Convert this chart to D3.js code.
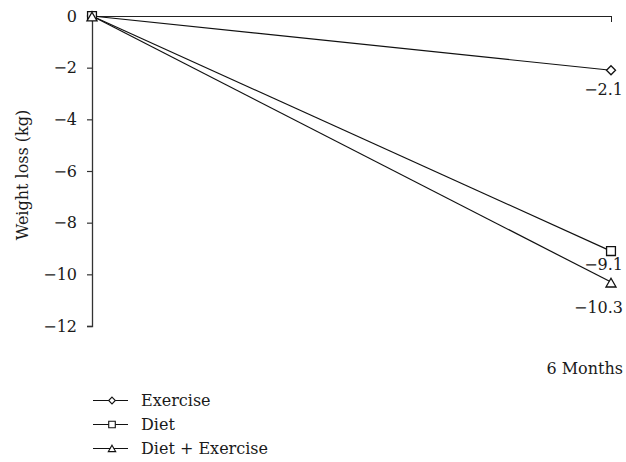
<!DOCTYPE html>
<html>
<head>
<meta charset="utf-8">
<script src="https://cdn.jsdelivr.net/npm/d3@7"></script>
<style>
  body { margin: 0; background: #fff; }
</style>
</head>
<body>
<div id="chart"></div>
<script>
// data
var timepoints = ["Baseline", "6 Months"];
var seriesNames = ["Exercise", "Diet", "Diet + Exercise"];
var exerciseVals = [0, -2.1];
var dietVals = [0, -9.1];
var comboVals = [0, -10.3];
var yTicks = [0, -2, -4, -6, -8, -10, -12];

var series = [
    { name: seriesNames[0], values: exerciseVals, symbol: "diamond" },
    { name: seriesNames[1], values: dietVals, symbol: "square" },
    { name: seriesNames[2], values: comboVals, symbol: "triangle" }
];

var width = 626, height = 462;
var fs = "16px";

var svg = d3.select("#chart").append("svg")
    .attr("width", width)
    .attr("height", height)
    .style("font-family", "DejaVu Serif");

var x = d3.scalePoint()
    .domain(timepoints)
    .range([92, 611]);

var y = d3.scaleLinear()
    .domain([-12, 0])
    .range([326, 16]);

// y axis
var yAxis = svg.append("g")
    .attr("transform", "translate(92,0)")
    .call(d3.axisLeft(y).tickValues(yTicks).tickSize(5).tickPadding(10)
        .tickFormat(function(d) { return d === 0 ? "0" : "\u2212" + Math.abs(d); }));
yAxis.attr("font-family", null).attr("font-size", fs);
yAxis.select(".domain").attr("stroke", "#333").attr("stroke-width", 1.3);
yAxis.selectAll(".tick line").attr("stroke", "#333").attr("stroke-width", 1.2);
yAxis.selectAll("text").attr("fill", "#1a1a1a");

// top frame line with end tick
var topAxis = svg.append("g")
    .attr("transform", "translate(0,16)")
    .call(d3.axisBottom(x).tickValues(["6 Months"]).tickSize(6).tickSizeOuter(0).tickFormat(""));
topAxis.select(".domain").attr("stroke", "#222");
topAxis.selectAll(".tick line").attr("stroke", "#222");

svg.append("text")
    .attr("x", x("6 Months") + 12)
    .attr("y", 374)
    .attr("text-anchor", "end")
    .attr("font-size", fs)
    .attr("fill", "#1a1a1a")
    .text("6 Months");

svg.append("text")
    .attr("transform", "translate(28,175) rotate(-90)")
    .attr("text-anchor", "middle")
    .attr("font-size", fs)
    .attr("fill", "#1a1a1a")
    .text("Weight loss (kg)");

var symbolType = {
    diamond: d3.symbolDiamond2,
    square: d3.symbolSquare2,
    triangle: d3.symbolTriangle2
};
var symbolSize = { diamond: 52, square: 100, triangle: 72 };
var symbolDy = { diamond: 0, square: 0, triangle: 2 };

var line = d3.line()
    .x(function(d, i) { return x(timepoints[i]); })
    .y(function(d) { return y(d); });

series.forEach(function(s) {
    svg.append("path")
        .attr("d", line(s.values))
        .attr("fill", "none")
        .attr("stroke", "#111")
        .attr("stroke-width", 1.2);
});

series.forEach(function(s) {
    s.values.forEach(function(v, i) {
        svg.append("path")
            .attr("d", d3.symbol().type(symbolType[s.symbol]).size(symbolSize[s.symbol])())
            .attr("transform", "translate(" + x(timepoints[i]) + "," + (y(v) + symbolDy[s.symbol]) + ")")
            .attr("fill", "#fff")
            .attr("stroke", "#111")
            .attr("stroke-width", 1.3);
    });
});

// end value labels
var labelDy = { diamond: 25, square: 19, triangle: 31 };
series.forEach(function(s) {
    var last = s.values[s.values.length - 1];
    svg.append("text")
        .attr("x", x(timepoints[1]) + 12)
        .attr("y", y(last) + labelDy[s.symbol])
        .attr("text-anchor", "end")
        .attr("font-size", fs)
        .attr("fill", "#1a1a1a")
        .text("\u2212" + Math.abs(last));
});

// legend
var legend = svg.selectAll("g.legend")
    .data(series)
    .enter().append("g")
    .attr("class", "legend")
    .attr("transform", function(d, i) { return "translate(93," + (400.5 + i * 24) + ")"; });

legend.append("line")
    .attr("x1", 0).attr("x2", 35).attr("y1", 0).attr("y2", 0)
    .attr("stroke", "#111").attr("stroke-width", 1.2);

legend.append("path")
    .attr("d", function(d) { return d3.symbol().type(symbolType[d.symbol]).size(symbolSize[d.symbol] * 0.55)(); })
    .attr("transform", function(d) { return "translate(19," + (d.symbol == "triangle" ? 1 : 0) + ")"; })
    .attr("fill", "#fff")
    .attr("stroke", "#111")
    .attr("stroke-width", 1.1);

legend.append("text")
    .attr("x", 48)
    .attr("y", 5.5)
    .attr("font-size", fs)
    .attr("fill", "#1a1a1a")
    .text(function(d) { return d.name; });
</script>
</body>
</html>
